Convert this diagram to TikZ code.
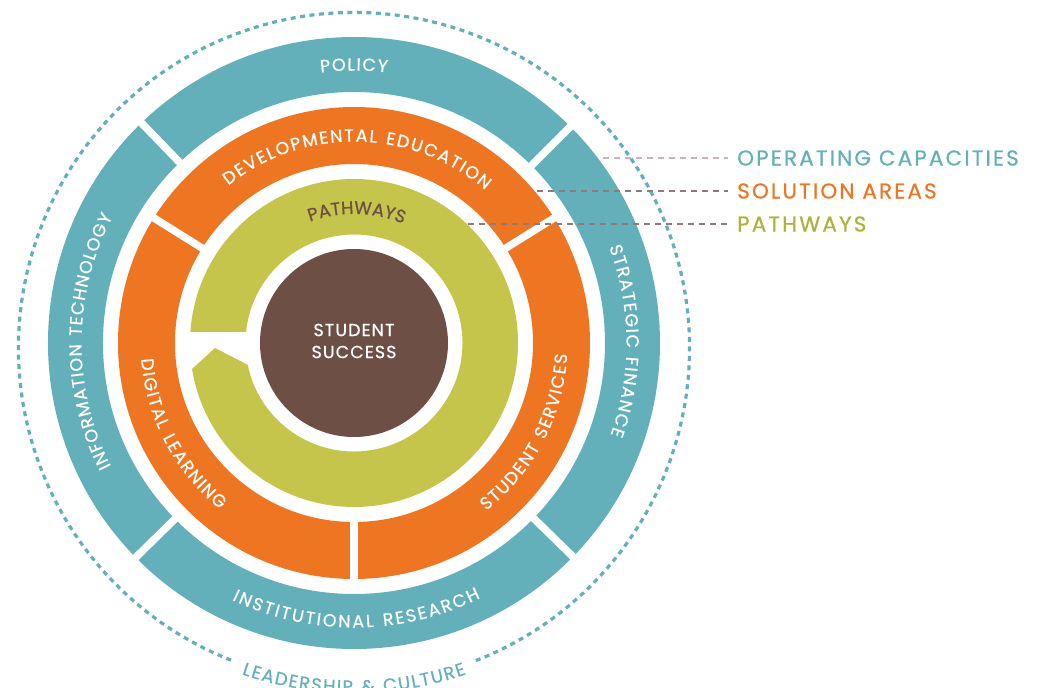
\documentclass[tikz,border=0pt]{standalone}
\usepackage{fontspec}
\setmainfont{Poppins}
\newfontfamily\ringfont[LetterSpace=6, FakeBold=0.6]{Poppins}
\newfontfamily\pathfont[LetterSpace=3, FakeBold=0.6]{Poppins}
\newfontfamily\legfont[LetterSpace=10, FakeBold=0.6]{Poppins}
\usetikzlibrary{decorations.text}
\definecolor{cTeal}{HTML}{64B0BA}
\definecolor{cOrange}{HTML}{EE7623}
\definecolor{cGreen}{HTML}{C4C54A}
\definecolor{cBrown}{HTML}{6D4F46}
\definecolor{cLegGreen}{HTML}{AAB43A}
\definecolor{cLineLight}{HTML}{C9B5B5}
\definecolor{cLineDark}{HTML}{8E7A78}
\tikzset{
  ringtext/.style={decorate, decoration={text along path, text align={fit to path}, text color=white,
      text={|\ringfont\fontsize{17.5}{17.5}\selectfont|#1}}},
  pathtext/.style={decorate, decoration={text along path, text align=center, text color=cBrown,
      text={|\pathfont\fontsize{18}{18}\selectfont|#1}}},
  leadtext/.style={decorate, decoration={text along path, text align={fit to path}, text color=cTeal,
      text={|\ringfont\fontsize{18}{18}\selectfont|#1}}},
  gapline/.style={white, line width=7.5pt},
  legline/.style={line width=1.2pt, dash pattern=on 6pt off 5pt},
  legtext/.style={anchor=west, inner sep=0pt, font=\legfont\fontsize{21.5}{21.5}\selectfont}
}
\begin{document}
\begin{tikzpicture}[x=1pt,y=1pt]
\useasboundingbox (-354,-345) rectangle (688,343);
\clip (-354,-345) rectangle (688,343);
\fill[white] (-354,-345) rectangle (688,343);

% dotted outer circle (leadership & culture)
\draw[cTeal, line width=3.2pt, dash pattern=on 5pt off 4.5pt, shift={(0,-5)}]
  (-68.7:335.5) arc[start angle=-68.7, end angle=249, radius=335.5];
\path[leadtext={LEADERSHIP {\&} CULTURE}, shift={(0,-5)}]
  (251:345) arc[start angle=251, end angle=289, radius=345];

% operating capacities ring
\draw[cTeal, line width=55pt] (0,0) circle[radius=278.5];
\draw[gapline] (45:246) -- (45:311);
\draw[gapline] (134:246) -- (134:311);
\draw[gapline] (-135.5:246) -- (-135.5:311);
\draw[gapline] (-44.3:246) -- (-44.3:311);

% solution areas ring
\draw[cOrange, line width=57pt] (0,0) circle[radius=207.5];
\draw[gapline] (32:174) -- (32:241);
\draw[gapline] (148:174) -- (148:241);
\draw[gapline] (-90:174) -- (-90:241);

% pathways ring
\fill[cGreen] (176.15:164) arc[start angle=176.15, end angle=-170.88, radius=164]
  -- (-139,-5) -- (-168.4:108.5) arc[start angle=-168.4, end angle=174.15, radius=108.5] -- cycle;

% student success
\fill[cBrown] (0,0) circle[radius=94];
\node[align=center, text=white, inner sep=0pt, font=\ringfont\fontsize{17.5}{22}\selectfont] (ss) at (0,2) {STUDENT\\SUCCESS};

% ring labels
\path[ringtext={POLICY}] (97:272.5) arc[start angle=97, end angle=83, radius=272.5];
\path[ringtext={INFORMATION TECHNOLOGY}] (206.9:272.5) arc[start angle=206.9, end angle=152.4, radius=272.5];
\path[ringtext={STRATEGIC FINANCE}] (20.6:272.5) arc[start angle=20.6, end angle=-19.7, radius=272.5];
\path[ringtext={INSTITUTIONAL RESEARCH}] (244.6:284.5) arc[start angle=244.6, end angle=296.4, radius=284.5];
\path[ringtext={DEVELOPMENTAL EDUCATION}] (128.6:201.5) arc[start angle=128.6, end angle=49.4, radius=201.5];
\path[ringtext={DIGITAL LEARNING}] (184.3:213.5) arc[start angle=184.3, end angle=231.2, radius=213.5];
\path[ringtext={STUDENT SERVICES}] (-51.8:213.5) arc[start angle=-51.8, end angle=-3, radius=213.5];
\path[pathtext={PATHWAYS}] (168.75:129) arc[start angle=168.75, end angle=8.75, radius=129];

% legend
\coordinate (opcS) at (249,185);
\coordinate (solS) at (183,152);
\coordinate (pthS) at (114,119);
\node[legtext, text=cTeal] (opc) at (383,185) {OPERATING CAPACITIES};
\node[legtext, text=cOrange] (sol) at (383,152) {SOLUTION AREAS};
\node[legtext, text=cLegGreen] (pth) at (383,119) {PATHWAYS};
\draw[legline, cLineLight] (opcS) -- ([xshift=-9pt]opc.west);
\draw[legline, cLineDark] (solS) -- ([xshift=-9pt]sol.west);
\draw[legline, cLineDark] (pthS) -- ([xshift=-9pt]pth.west);
\end{tikzpicture}
\end{document}
